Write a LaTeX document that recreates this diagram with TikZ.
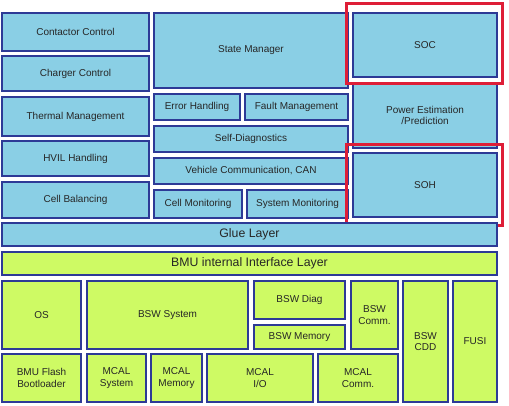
\documentclass[tikz,border=0pt]{standalone}
\usepackage{fontspec}
\setmainfont{Liberation Sans}
\definecolor{lblue}{RGB}{138,207,229}
\definecolor{lgreen}{RGB}{206,250,100}
\definecolor{bord}{RGB}{45,58,150}
\definecolor{rframe}{RGB}{222,30,55}
\tikzset{
  box/.style={draw=bord, line width=1.5pt, inner sep=0pt, align=center, font=\fontsize{10}{11.5}\selectfont, text=black!85},
  bbox/.style={box, fill=lblue},
  gbox/.style={box, fill=lgreen},
  big/.style={font=\fontsize{12.3}{14}\selectfont},
  redframe/.style={draw=rframe, line width=3pt, inner sep=0pt}
}
% \bx{style}{name}{x1}{y1}{x2}{y2}{text}
\newcommand\bx[7]{\node[#1, minimum width={(#5-#3)*1pt}, minimum height={(#6-#4)*1pt}] (#2) at ({(#3+#5)/2},{(#4+#6)/2}) {#7};}
\begin{document}
\begin{tikzpicture}[x=1pt,y=-1pt]
\useasboundingbox (0,0) rectangle (509,406);
% left column
\bx{bbox}{cc}{2}{13}{149}{51}{Contactor Control}
\bx{bbox}{chc}{2}{56}{149}{91}{Charger Control}
\bx{bbox}{tm}{2}{97}{149}{136}{Thermal Management}
\bx{bbox}{hvil}{2}{141}{149}{176}{HVIL Handling}
\bx{bbox}{cb}{2}{182}{149}{218}{Cell Balancing}
% middle column
\bx{bbox}{sm}{154}{13}{348}{88}{State Manager}
\bx{bbox}{eh}{154}{94}{240}{120}{Error Handling}
\bx{bbox}{fm}{245}{94}{348}{120}{Fault Management}
\bx{bbox}{sd}{154}{126}{348}{152}{Self-Diagnostics}
\bx{bbox}{vc}{154}{158}{348}{184}{Vehicle Communication, CAN}
\bx{bbox}{cm}{154}{190}{242}{218}{Cell Monitoring}
\bx{bbox}{sysm}{247}{190}{348}{218}{System Monitoring}
% right column
\bx{bbox}{pe}{353}{83}{497}{148}{Power Estimation\\/Prediction}
\bx{bbox}{soc}{353}{13}{497}{77}{SOC}
\bx{bbox}{soh}{353}{153}{497}{217}{SOH}
\bx{redframe}{socf}{346}{4}{502}{84}{}
\bx{redframe}{sohf}{346}{145}{502}{226}{}
% layers
\bx{bbox,big}{glue}{2}{223}{497}{246}{Glue Layer}
\bx{gbox,big}{bmu}{2}{252}{497}{275}{BMU internal Interface Layer}
% BSW
\bx{gbox}{os}{2}{281}{81}{349}{OS}
\bx{gbox}{bsws}{87}{281}{248}{349}{BSW System}
\bx{gbox}{bswd}{254}{281}{345}{319}{BSW Diag}
\bx{gbox}{bswm}{254}{325}{345}{349}{BSW Memory}
\bx{gbox}{bswc}{351}{281}{398}{349}{BSW\\Comm.}
\bx{gbox}{cdd}{403}{281}{448}{402}{BSW\\CDD}
\bx{gbox}{fusi}{453}{281}{497}{402}{FUSI}
% MCAL
\bx{gbox}{boot}{2}{354}{81}{402}{BMU Flash\\Bootloader}
\bx{gbox}{mcs}{87}{354}{146}{402}{MCAL\\System}
\bx{gbox}{mcm}{151}{354}{202}{402}{MCAL\\Memory}
\bx{gbox}{mcio}{207}{354}{313}{402}{MCAL\\I/O}
\bx{gbox}{mcc}{318}{354}{398}{402}{MCAL\\Comm.}
\end{tikzpicture}
\end{document}
